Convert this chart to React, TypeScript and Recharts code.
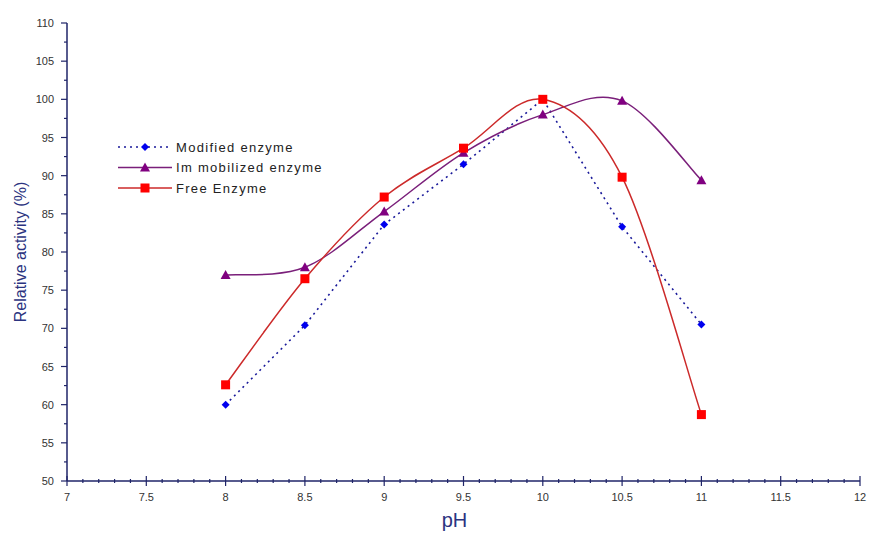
import React from 'react';
import { LineChart, Line, XAxis, YAxis, Label } from 'recharts';

const phValues = [8, 8.5, 9, 9.5, 10, 10.5, 11];
const modifiedEnzyme = [60, 70.4, 83.6, 91.5, 100, 83.3, 70.5];
const immobilizedEnzyme = [77, 78, 85.3, 93, 98, 99.8, 89.4];
const freeEnzyme = [62.6, 76.5, 87.2, 93.6, 100, 89.8, 58.7];

const xMajorTicks = [7, 7.5, 8, 8.5, 9, 9.5, 10, 10.5, 11, 11.5, 12];
const yMajorTicks = [50, 55, 60, 65, 70, 75, 80, 85, 90, 95, 100, 105, 110];

const seriesNames = ['Modified enzyme', 'Im mobilized enzyme', 'Free Enzyme'];

const xAllTicks: number[] = [];
for (let i = 0; i <= 50; i++) xAllTicks.push(Math.round((7 + i * 0.1) * 10) / 10);
const yAllTicks: number[] = [];
for (let i = 0; i <= 24; i++) yAllTicks.push(50 + i * 2.5);

const data = phValues.map((ph, i) => ({
  ph,
  modified: modifiedEnzyme[i],
  immobilized: immobilizedEnzyme[i],
  free: freeEnzyme[i],
}));

const AXIS = '#1f2468';
const FONT = '"Liberation Sans", Arial, sans-serif';
const BLUE = '#0000ee';
const BLUE_LINE = '#1a1a9a';
const PURPLE = '#800080';
const PURPLE_LINE = '#7a1f7a';
const RED = '#ff0000';
const RED_LINE = '#cc2a2a';

// Excel-like smoothing (Catmull-Rom as cubic Bezier)
function excelSmooth(context: any) {
  let pts: number[][] = [];
  return {
    areaStart() {},
    areaEnd() {},
    lineStart() {
      pts = [];
    },
    point(x: number, y: number) {
      pts.push([+x, +y]);
    },
    lineEnd() {
      if (!pts.length) return;
      context.moveTo(pts[0][0], pts[0][1]);
      for (let i = 0; i < pts.length - 1; i++) {
        const p0 = pts[i - 1] || pts[i];
        const p1 = pts[i];
        const p2 = pts[i + 1];
        const p3 = pts[i + 2] || pts[i + 1];
        const c1x = p1[0] + (p2[0] - p0[0]) / 6;
        const c1y = p1[1] + (p2[1] - p0[1]) / 6;
        const c2x = p2[0] - (p3[0] - p1[0]) / 6;
        const c2y = p2[1] - (p3[1] - p1[1]) / 6;
        context.bezierCurveTo(c1x, c1y, c2x, c2y, p2[0], p2[1]);
      }
    },
  };
}

const Diamond = (props: any) => {
  const { cx, cy } = props;
  if (cx == null || cy == null) return null;
  const s = 4;
  return <path d={`M${cx},${cy - s}L${cx + s},${cy}L${cx},${cy + s}L${cx - s},${cy}Z`} fill={BLUE} />;
};
const Triangle = (props: any) => {
  const { cx, cy } = props;
  if (cx == null || cy == null) return null;
  return <path d={`M${cx},${cy - 5}L${cx + 5},${cy + 4}L${cx - 5},${cy + 4}Z`} fill={PURPLE} />;
};
const Square = (props: any) => {
  const { cx, cy } = props;
  if (cx == null || cy == null) return null;
  return <rect x={cx - 4.5} y={cy - 4.5} width={9} height={9} fill={RED} />;
};

const XTick = (props: any) => {
  const { x, y, payload } = props;
  const v = payload.value;
  const major = xMajorTicks.some((t) => Math.abs(t - v) < 1e-6);
  return (
    <g>
      <line x1={x} x2={x} y1={major ? y - 5 : y - 2} y2={major ? y + 5 : y + 2} stroke={AXIS} strokeWidth={1.2} />
      {major && (
        <text x={x} y={y + 20} textAnchor="middle" fontSize={11} fill="#333" fontFamily={FONT}>
          {v}
        </text>
      )}
    </g>
  );
};

const YTick = (props: any) => {
  const { x, y, payload } = props;
  const v = payload.value;
  const major = yMajorTicks.some((t) => Math.abs(t - v) < 1e-6);
  return (
    <g>
      <line x1={major ? x - 6 : x - 3} x2={x} y1={y} y2={y} stroke={AXIS} strokeWidth={1.2} />
      {major && (
        <text x={x - 13} y={y + 4} textAnchor="end" fontSize={11} fill="#333" fontFamily={FONT}>
          {v}
        </text>
      )}
    </g>
  );
};

const LegendBox = () => {
  const rows = [
    { name: seriesNames[0], color: BLUE_LINE, dash: '2 4', Marker: Diamond },
    { name: seriesNames[1], color: PURPLE_LINE, dash: undefined, Marker: Triangle },
    { name: seriesNames[2], color: RED_LINE, dash: undefined, Marker: Square },
  ];
  return (
    <svg width={260} height={64} style={{ display: 'block' }}>
      {rows.map((r, i) => {
        const cy = 8 + i * 20.5;
        const M = r.Marker;
        return (
          <g key={r.name}>
            <line x1={2} x2={56} y1={cy} y2={cy} stroke={r.color} strokeWidth={r.dash ? 1.6 : 1.5} strokeDasharray={r.dash} />
            <M cx={29} cy={cy} />
            <text x={60} y={cy + 4.5} fontSize={13} letterSpacing={1.3} fill="#222" fontFamily={FONT}>
              {r.name}
            </text>
          </g>
        );
      })}
    </svg>
  );
};

export default function App() {
  return (
    <div style={{ position: 'fixed', left: 8, top: 8, width: 863, height: 525, background: '#fff' }}>
      <LineChart width={863} height={525} data={data} margin={{ top: 15, right: 11, left: 0, bottom: 0 }}>
        <XAxis
          dataKey="ph"
          type="number"
          domain={[7, 12]}
          ticks={xAllTicks}
          interval={0}
          tick={<XTick />}
          tickLine={false}
          tickSize={0}
          tickMargin={0}
          height={52}
          axisLine={{ stroke: AXIS, strokeWidth: 1.5 }}
          allowDataOverflow
        >
          <Label
            content={(p: any) => {
              const vb = p.viewBox || {};
              return (
                <text x={vb.x + vb.width / 2 - 9} y={vb.y + 46} textAnchor="middle" fontSize={20} fill="#2b3380" fontFamily={FONT}>
                  pH
                </text>
              );
            }}
          />
        </XAxis>
        <YAxis
          type="number"
          domain={[50, 110]}
          ticks={yAllTicks}
          interval={0}
          tick={<YTick />}
          tickLine={false}
          tickSize={0}
          tickMargin={0}
          width={59}
          axisLine={{ stroke: AXIS, strokeWidth: 1.5 }}
          allowDataOverflow
        >
          <Label
            content={(p: any) => {
              const vb = p.viewBox || {};
              const cx = vb.x + 12;
              const cy = vb.y + vb.height / 2;
              return (
                <text
                  x={cx}
                  y={cy}
                  transform={`rotate(-90 ${cx} ${cy})`}
                  textAnchor="middle"
                  dominantBaseline="central"
                  fontSize={16}
                  fill="#2b3380"
                  fontFamily={FONT}
                >
                  Relative activity (%)
                </text>
              );
            }}
          />
        </YAxis>
        <Line
          dataKey="modified"
          name={seriesNames[0]}
          type="linear"
          stroke={BLUE_LINE}
          strokeWidth={1.6}
          strokeDasharray="2 4"
          dot={<Diamond />}
          activeDot={false}
          isAnimationActive={false}
        />
        <Line
          dataKey="immobilized"
          name={seriesNames[1]}
          type={excelSmooth as any}
          stroke={PURPLE_LINE}
          strokeWidth={1.5}
          dot={<Triangle />}
          activeDot={false}
          isAnimationActive={false}
        />
        <Line
          dataKey="free"
          name={seriesNames[2]}
          type={excelSmooth as any}
          stroke={RED_LINE}
          strokeWidth={1.5}
          dot={<Square />}
          activeDot={false}
          isAnimationActive={false}
        />
      </LineChart>
      <div style={{ position: 'absolute', left: 108, top: 131 }}>
        <LegendBox />
      </div>
    </div>
  );
}
